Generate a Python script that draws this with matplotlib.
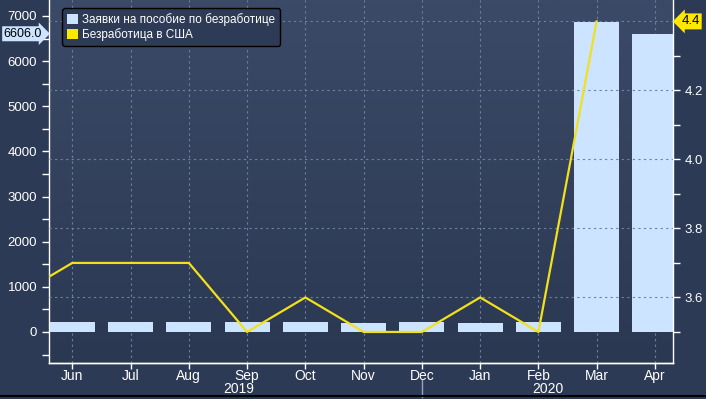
import matplotlib
matplotlib.use("Agg")
import matplotlib.pyplot as plt
import numpy as np
from matplotlib.colors import LinearSegmentedColormap
from matplotlib.patches import Patch

plt.rcParams['font.family'] = ['Liberation Sans', 'DejaVu Sans']

months = ['Jun', 'Jul', 'Aug', 'Sep', 'Oct', 'Nov', 'Dec', 'Jan', 'Feb', 'Mar', 'Apr']
claims = [225, 225, 225, 215, 220, 205, 225, 210, 215, 6867, 6606]
# unemployment: May 2019 .. Mar 2020
unemp_months_idx = [-1, 0, 1, 2, 3, 4, 5, 6, 7, 8, 9]
unemp = [3.6, 3.7, 3.7, 3.7, 3.5, 3.6, 3.5, 3.5, 3.6, 3.5, 4.4]
years = ['2019', '2020']
legend_labels = ['Заявки на пособие по безработице', 'Безработица в США']

BG = '#2c3a55'
BAR = '#cce4ff'
YEL = '#f2e11a'
NARROW = ['Liberation Sans Narrow', 'Liberation Sans']

fig = plt.figure(figsize=(7.06, 3.99), dpi=100, facecolor=BG)
ax = fig.add_axes([49/706, 1 - 363/399, (673-49)/706, 363/399])
ax.set_facecolor(BG)

# gradient background
cmap = LinearSegmentedColormap.from_list('bg', ['#2b3852', '#3b4a67'])
grad = np.linspace(0, 1, 256).reshape(-1, 1)
ax.imshow(grad, aspect='auto', cmap=cmap, extent=[0, 1, 0, 1],
          transform=ax.transAxes, origin='lower', zorder=0)

x = np.arange(len(months))
ax.bar(x, claims, width=0.775, color=BAR, zorder=3)
ax.set_xlim(-0.4, 10.31)
ax.set_ylim(-687, 7354)
ax.set_xticks(x)
ax.set_xticklabels(months)
ax.set_yticks(np.arange(0, 7001, 1000))
ax.set_yticks(np.arange(-500, 7001, 1000), minor=True)

ax2 = ax.twinx()
ax2.plot(unemp_months_idx, unemp, color=YEL, lw=1.6, zorder=4)
ax2.set_ylim(3.410, 4.462)
ax2.set_yticks([3.6, 3.8, 4.0, 4.2])
ax2.set_yticks([3.5, 3.7, 3.9, 4.1, 4.3], minor=True)
ax2.set_xlim(-0.4, 10.31)

# grid: vertical at months, horizontal at right-axis ticks
for xi in x:
    ax.axvline(xi, color='#6f81a3', lw=0.8, ls=(0, (2, 3)), zorder=1)
for yv in [3.6, 3.8, 4.0, 4.2, 4.4]:
    ax2.axhline(yv, color='#6f81a3', lw=0.8, ls=(0, (2, 3)), zorder=1)

for a in (ax, ax2):
    a.spines['top'].set_visible(False)
    for s in ['left', 'right', 'bottom']:
        a.spines[s].set_color('white')
        a.spines[s].set_linewidth(1.0)
    a.tick_params(colors='white', labelsize=9.5, length=5, width=1)
    a.tick_params(which='minor', colors='white', length=5, width=1)
ax.tick_params(axis='x', length=4, pad=0.5)
ax.spines['right'].set_visible(False)
ax2.spines['left'].set_visible(False)
for lab in ax.get_xticklabels():
    lab.set_family(NARROW)
    lab.set_fontsize(10)

# year labels and separator
for xp, yr in zip([2.85, 8.17], years):
    ax.text(xp, -26/363, yr, transform=ax.get_xaxis_transform(), ha='center', va='center',
            color='white', fontsize=10, family=NARROW)
ax.plot([6, 6], [-0.047, -0.095], transform=ax.get_xaxis_transform(), color='#9aa3b3',
        lw=1, clip_on=False)

# last value labels
ax.annotate(f'{claims[-1]:.1f}', xy=(0, claims[-1]), xycoords=('axes fraction', 'data'),
            xytext=(-5, 0), textcoords='offset points', ha='right', va='center',
            fontsize=9, color='black',
            bbox=dict(boxstyle='rarrow,pad=0.12', fc=BAR, ec='none'), annotation_clip=False)
ax2.annotate(f'{unemp[-1]:.1f}', xy=(1, unemp[-1]), xycoords=('axes fraction', 'data'),
             xytext=(6, 0), textcoords='offset points', ha='left', va='center',
             fontsize=9.5, color='black',
             bbox=dict(boxstyle='larrow,pad=0.15', fc='#ffe800', ec='none'), annotation_clip=False)

# legend
handles = [Patch(facecolor=BAR, edgecolor='none'), Patch(facecolor='#ffe800', edgecolor='none')]
leg = ax2.legend(handles, legend_labels, loc='upper left', bbox_to_anchor=(0.012, 0.993),
                 frameon=True, fontsize=8.5, handlelength=0.9, handleheight=0.9,
                 handletextpad=0.4, labelspacing=0.15, borderpad=0.4, fancybox=True)
leg.get_frame().set_facecolor('#2e3b56')
leg.get_frame().set_edgecolor('black')
leg.get_frame().set_alpha(1)
for t in leg.get_texts():
    t.set_color('white')
leg.set_zorder(10)

# bottom border line
fig.add_artist(plt.Line2D([0, 1], [1 - 396/399, 1 - 396/399], color='black', lw=1.5,
                          transform=fig.transFigure))

fig.savefig('out.png', dpi=100, facecolor=BG)
